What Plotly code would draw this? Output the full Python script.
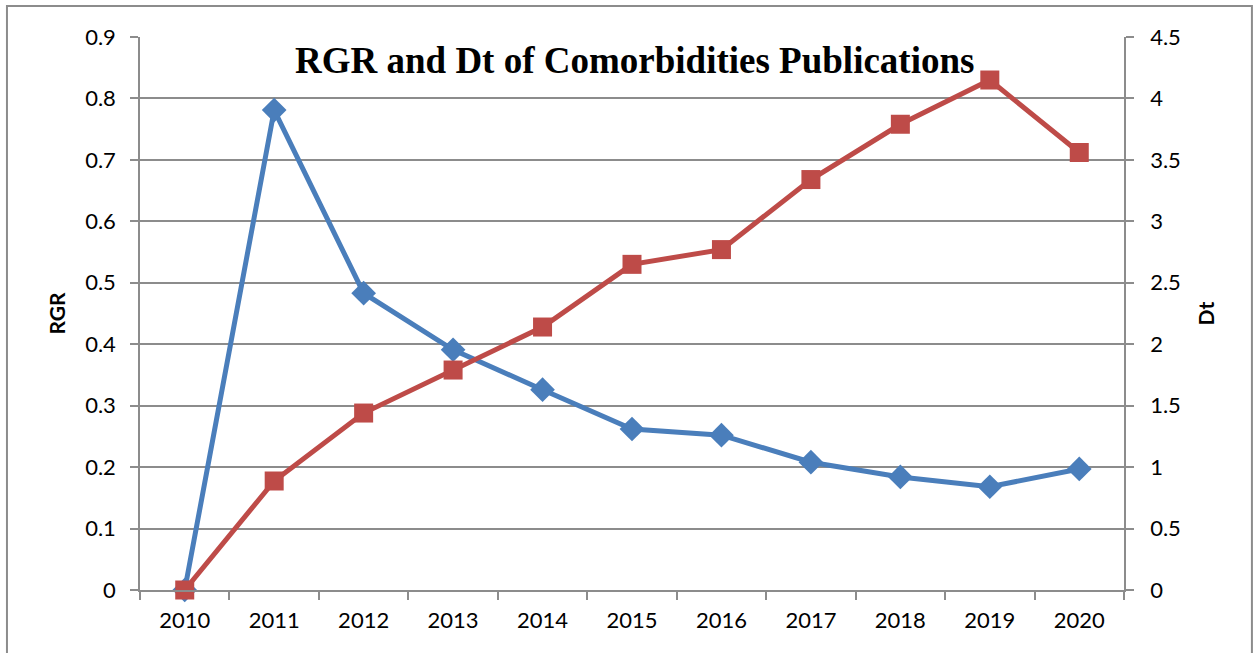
import plotly.graph_objects as go

years = ["2010", "2011", "2012", "2013", "2014", "2015", "2016", "2017", "2018", "2019", "2020"]
rgr = [0.0, 0.781, 0.483, 0.391, 0.326, 0.262, 0.252, 0.208, 0.184, 0.168, 0.197]
dt = [0.0, 0.887, 1.44, 1.79, 2.14, 2.65, 2.77, 3.34, 3.79, 4.15, 3.56]

rgr_ticks = [0, 0.1, 0.2, 0.3, 0.4, 0.5, 0.6, 0.7, 0.8, 0.9]
rgr_ticktext = ["0", "0.1", "0.2", "0.3", "0.4", "0.5", "0.6", "0.7", "0.8", "0.9"]
dt_ticks = [0, 0.5, 1, 1.5, 2, 2.5, 3, 3.5, 4, 4.5]
dt_ticktext = ["0", "0.5", "1", "1.5", "2", "2.5", "3", "3.5", "4", "4.5"]

BLUE = "#4A7EBB"
RED = "#BE4B48"
GRID = "#8C8C8C"
FAM = "Lato, Open Sans, sans-serif"
TICKFONT = dict(family=FAM, size=22, color="#000000")
TITLEFONT = dict(family=FAM, size=21, color="#000000", weight="bold")

fig = go.Figure()
fig.add_trace(go.Scatter(
    x=years, y=rgr, name="RGR", mode="lines+markers",
    line=dict(color=BLUE, width=5),
    marker=dict(symbol="diamond", size=19, color=BLUE),
    yaxis="y", cliponaxis=False,
))
fig.add_trace(go.Scatter(
    x=years, y=dt, name="Dt", mode="lines+markers",
    line=dict(color=RED, width=5),
    marker=dict(symbol="square", size=19, color=RED),
    yaxis="y2", cliponaxis=False,
))

fig.update_layout(
    width=1253, height=653,
    margin=dict(l=140, r=129, t=37, b=63),
    paper_bgcolor="white", plot_bgcolor="white",
    showlegend=False,
    xaxis=dict(
        type="category", tickson="boundaries", showgrid=False,
        range=[-0.5, len(years) - 0.5],
        ticks="outside", ticklen=8, tickcolor=GRID, tickwidth=1.5,
        showline=True, linecolor=GRID, linewidth=1.5,
        tickfont=TICKFONT, zeroline=False, ticklabelstandoff=10,
    ),
    yaxis=dict(
        range=[0, 0.9], tickvals=rgr_ticks, ticktext=rgr_ticktext,
        showgrid=True, gridcolor=GRID, gridwidth=1.5,
        ticks="outside", ticklen=8, tickcolor=GRID, tickwidth=1.5,
        showline=True, linecolor=GRID, linewidth=1.5,
        tickfont=TICKFONT, zeroline=False, ticklabelstandoff=10,
        title=dict(text="RGR", font=TITLEFONT, standoff=14),
    ),
    yaxis2=dict(
        range=[0, 4.5], tickvals=dt_ticks, ticktext=dt_ticktext,
        overlaying="y", side="right", showgrid=False,
        ticks="outside", ticklen=8, tickcolor=GRID, tickwidth=1.5,
        showline=True, linecolor=GRID, linewidth=1.5,
        tickfont=TICKFONT, zeroline=False, ticklabelstandoff=12,
        title=dict(text="Dt", font=TITLEFONT, standoff=19),
    ),
    annotations=[dict(
        text="<b>RGR and Dt of Comorbidities Publications</b>",
        xref="paper", yref="paper", x=0.503, y=0.958,
        xanchor="center", yanchor="middle", showarrow=False,
        font=dict(family="Liberation Serif, Times New Roman, serif", size=37, color="#000"),
    )],
    shapes=[dict(
        type="rect", xref="paper", yref="paper",
        x0=-0.1352, x1=1.130, y0=-0.3, y1=1.056,
        line=dict(color="#8C8C8C", width=2), fillcolor="rgba(0,0,0,0)", layer="below",
    )],
)

fig.write_html(
    "out.html",
    config={"displayModeBar": False},
    post_script="document.body.style.margin='0';document.body.style.overflow='hidden';",
)
